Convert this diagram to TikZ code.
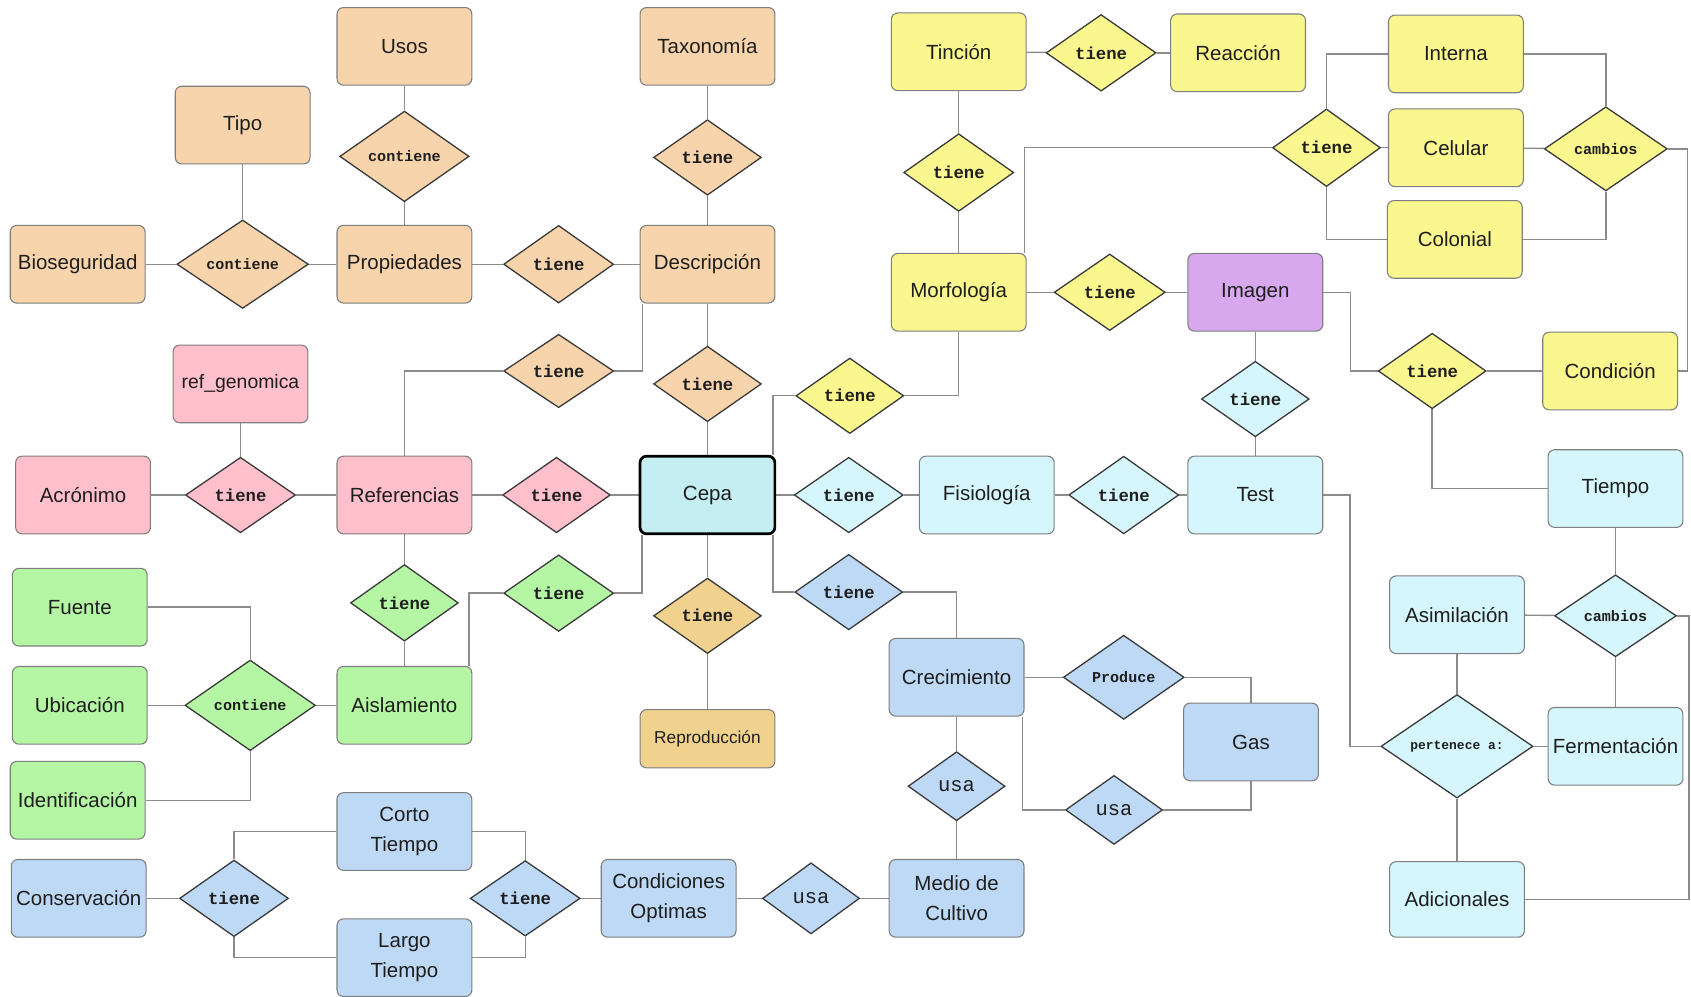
\documentclass[tikz,border=0pt]{standalone}
\usepackage{fontspec}
\newfontfamily\entf{Liberation Sans}
\newfontfamily\relf{Liberation Mono}
\usetikzlibrary{shapes.geometric}
\pgfdeclarelayer{bgfill}
\pgfdeclarelayer{lines}
\pgfsetlayers{bgfill,lines,main}
\definecolor{cPeach}{HTML}{F8D4AC}
\definecolor{cGold}{HTML}{F0D28E}
\definecolor{cYellow}{HTML}{FAF78E}
\definecolor{cPurple}{HTML}{D7A8EE}
\definecolor{cPink}{HTML}{FFBFCB}
\definecolor{cGreen}{HTML}{B5F6A4}
\definecolor{cLight}{HTML}{D4F6FC}
\definecolor{cCepa}{HTML}{C4EEF2}
\definecolor{cBlue}{HTML}{BDD9F5}
\definecolor{entB}{HTML}{7F7F7F}
\definecolor{relB}{HTML}{3A3A3A}
\definecolor{lineC}{HTML}{8C8C8C}
\definecolor{txt}{HTML}{1E1E1E}
\begin{document}
\begin{tikzpicture}[x=1pt,y=-1pt,
  ent/.style={draw=entB, line width=1pt, rounded corners=6pt, minimum width=125pt, minimum height=72pt, inner sep=2pt, align=center, text=txt, font=\entf\fontsize{19}{28}\selectfont},
  rel/.style={diamond, draw=relB, line width=1.2pt, minimum width=100pt, minimum height=70pt, inner sep=0pt, shape aspect=1.4, text=txt, font=\relf\bfseries\fontsize{16}{18}\selectfont},
  small/.style={font=\relf\bfseries\fontsize{14}{16}\selectfont},
  usastyle/.style={minimum width=90pt, minimum height=64pt, font=\relf\fontsize{19}{20}\selectfont},
  conn/.style={draw=lineC, line width=1.3pt},
]
\begin{pgfonlayer}{bgfill}
\fill[white] (0,0) rectangle (1568,924);
\end{pgfonlayer}
\useasboundingbox (0,0) rectangle (1568,924);

% ---------- peach ----------
\node[ent, fill=cPeach] (usos) at (375,43) {Usos};
\node[ent, fill=cPeach] (tax) at (656,43) {Taxonomía};
\node[ent, fill=cPeach] (tipo) at (225,116) {Tipo};
\node[ent, fill=cPeach] (bio) at (72,245) {Bioseguridad};
\node[ent, fill=cPeach] (prop) at (375,245) {Propiedades};
\node[ent, fill=cPeach] (desc) at (656,245) {Descripción};
\node[rel, small, fill=cPeach, minimum width=120pt, minimum height=84pt] (cu) at (375,145) {contiene};
\node[rel, fill=cPeach] (tt) at (656,146) {tiene};
\node[rel, small, fill=cPeach, minimum width=122pt, minimum height=82pt] (cb) at (225,245) {contiene};
\node[rel, fill=cPeach, minimum width=102pt, minimum height=72pt] (tp1) at (518,245) {tiene};
\node[rel, fill=cPeach, minimum width=102pt, minimum height=68pt] (tp2) at (518,344) {tiene};
\node[rel, fill=cPeach] (tp3) at (656,356) {tiene};

% ---------- pink ----------
\node[ent, fill=cPink, font=\entf\fontsize{18}{24}\selectfont] (refg) at (223,356) {ref\_genomica};
\node[ent, fill=cPink] (acr) at (77,459) {Acrónimo};
\node[ent, fill=cPink] (ref) at (375,459) {Referencias};
\node[rel, fill=cPink, minimum width=102pt] (tk1) at (223,459) {tiene};
\node[rel, fill=cPink] (tk2) at (516,459) {tiene};

% ---------- green ----------
\node[ent, fill=cGreen] (fuente) at (74,563) {Fuente};
\node[ent, fill=cGreen] (ubic) at (74,654) {Ubicación};
\node[ent, fill=cGreen] (aisl) at (375,654) {Aislamiento};
\node[ent, fill=cGreen] (ident) at (72,742) {Identificación};
\node[rel, fill=cGreen, minimum height=71pt] (tg1) at (375,559) {tiene};
\node[rel, fill=cGreen, minimum width=102pt, minimum height=71pt] (tg2) at (518,550) {tiene};
\node[rel, small, fill=cGreen, minimum width=121pt, minimum height=84pt] (cg) at (232,654) {contiene};

% ---------- centre ----------
\node[ent, fill=cCepa, draw=black, line width=2.5pt] (cepa) at (656,459) {Cepa};
\node[rel, fill=cGold] (tgold) at (656,571) {tiene};
\node[ent, fill=cGold, minimum height=54pt, font=\entf\fontsize{16}{20}\selectfont] (repro) at (656,685) {Reproducción};

% ---------- yellow ----------
\node[ent, fill=cYellow] (tinc) at (889,48) {Tinción};
\node[ent, fill=cYellow] (reac) at (1148,49) {Reacción};
\node[ent, fill=cYellow] (morf) at (889,271) {Morfología};
\node[ent, fill=cYellow] (interna) at (1350,50) {Interna};
\node[ent, fill=cYellow] (celular) at (1350,137) {Celular};
\node[ent, fill=cYellow] (colonial) at (1349,222) {Colonial};
\node[ent, fill=cYellow] (cond) at (1493,344) {Condición};
\node[rel, fill=cYellow, minimum width=102pt, minimum height=72pt] (tyTM) at (889,160) {tiene};
\node[rel, fill=cYellow, minimum width=102pt, minimum height=71pt] (tyTR) at (1021,49) {tiene};
\node[rel, fill=cYellow, minimum width=103pt, minimum height=71pt] (tyMI) at (1029,271) {tiene};
\node[rel, fill=cYellow] (tyCM) at (788,367) {tiene};
\node[rel, fill=cYellow, minimum height=72pt] (tyMC) at (1230,137) {tiene};
\node[rel, small, fill=cYellow, minimum width=114pt, minimum height=78pt] (cambY) at (1489,138) {cambios};
\node[rel, fill=cYellow] (tyIC) at (1328,344) {tiene};

% ---------- purple ----------
\node[ent, fill=cPurple] (imagen) at (1164,271) {Imagen};

% ---------- light cyan ----------
\node[ent, fill=cLight] (fisio) at (915,459) {Fisiología};
\node[ent, fill=cLight] (test) at (1164,459) {Test};
\node[ent, fill=cLight] (tiempo) at (1498,453) {Tiempo};
\node[ent, fill=cLight] (asim) at (1351,570) {Asimilación};
\node[ent, fill=cLight] (ferm) at (1498,692) {Fermentación};
\node[ent, fill=cLight, minimum height=70pt] (adic) at (1351,834) {Adicionales};
\node[rel, fill=cLight, minimum width=101pt] (tl1) at (787,459) {tiene};
\node[rel, fill=cLight, minimum width=102pt, minimum height=72pt] (tl2) at (1042,459) {tiene};
\node[rel, fill=cLight] (tl3) at (1164,370) {tiene};
\node[rel, small, fill=cLight, minimum width=113pt, minimum height=76pt] (cambL) at (1498,571) {cambios};
\node[rel, fill=cLight, minimum width=141pt, minimum height=96pt, font=\relf\bfseries\fontsize{12}{14}\selectfont] (pert) at (1351,692) {pertenece a:};

% ---------- blue ----------
\node[ent, fill=cBlue] (crec) at (887,628) {Crecimiento};
\node[ent, fill=cBlue] (gas) at (1160,688) {Gas};
\node[ent, fill=cBlue] (medio) at (887,833) {Medio de\\Cultivo};
\node[ent, fill=cBlue] (condop) at (620,833) {Condiciones\\Optimas};
\node[ent, fill=cBlue] (cons) at (73,833) {Conservación};
\node[ent, fill=cBlue] (corto) at (375,771) {Corto\\Tiempo};
\node[ent, fill=cBlue] (largo) at (375,888) {Largo\\Tiempo};
\node[rel, fill=cBlue] (tb1) at (787,549) {tiene};
\node[rel, small, fill=cBlue, minimum width=112pt, minimum height=78pt] (prod) at (1042,628) {Produce};
\node[rel, fill=cBlue, usastyle] (usa1) at (887,729) {usa};
\node[rel, fill=cBlue, usastyle] (usa2) at (1033,751) {usa};
\node[rel, fill=cBlue, usastyle, minimum height=66pt] (usa3) at (752,833) {usa};
\node[rel, fill=cBlue, minimum width=101pt, minimum height=71pt] (tb2) at (217,833) {tiene};
\node[rel, fill=cBlue, minimum width=102pt] (tb3) at (487,833) {tiene};

% ---------- connectors ----------
\begin{pgfonlayer}{lines}
\begin{scope}[conn]
\draw (usos) -- (cu); \draw (cu) -- (prop);
\draw (tipo) -- (cb); \draw (bio) -- (cb); \draw (cb) -- (prop);
\draw (prop) -- (tp1); \draw (tp1) -- (desc);
\draw (tax) -- (tt); \draw (tt) -- (desc);
\draw (desc) -- (tp3); \draw (tp3) -- (cepa);
\draw ([xshift=3pt]desc.south west) |- (tp2.east);
\draw (tp2.west) -| (ref.north);
\draw (refg) -- (tk1); \draw (acr) -- (tk1); \draw (tk1) -- (ref);
\draw (ref) -- (tk2); \draw (tk2) -- (cepa);
\draw (ref) -- (tg1); \draw (tg1) -- (aisl);
\draw ([xshift=-3pt]aisl.north east) |- (tg2.west);
\draw (tg2.east) -| ([xshift=3pt]cepa.south west);
\draw (fuente.east) -| (cg.north);
\draw (ubic) -- (cg); \draw (cg) -- (aisl);
\draw (cg.south) |- (ident.east);
\draw (cepa) -- (tgold); \draw (tgold) -- (repro);
\draw ([xshift=-3pt]cepa.north east) |- (tyCM.west);
\draw (tyCM.east) -| (morf.south);
\draw (cepa) -- (tl1); \draw (tl1) -- (fisio);
\draw ([xshift=-3pt]cepa.south east) |- (tb1.west);
\draw (tb1.east) -| (crec.north);
\draw (tinc) -- (tyTM); \draw (tyTM) -- (morf);
\draw (tinc) -- (tyTR); \draw (tyTR) -- (reac);
\draw (morf) -- (tyMI); \draw (tyMI) -- (imagen);
\draw ([xshift=-2pt]morf.north east) |- (tyMC.west);
\draw (tyMC.north) |- (interna.west);
\draw (tyMC) -- (celular);
\draw (tyMC.south) |- (colonial.west);
\draw (interna.east) -| (cambY.north);
\draw (celular) -- (cambY);
\draw (colonial.east) -| (cambY.south);
\draw (cambY.east) -| ([xshift=9pt]cond.east) -- (cond.east);
\draw (imagen.east) -| ([xshift=-25pt]tyIC.west) -- (tyIC.west);
\draw (tyIC) -- (cond);
\draw (tyIC.south) |- (tiempo.west);
\draw (imagen) -- (tl3); \draw (tl3) -- (test);
\draw (fisio) -- (tl2); \draw (tl2) -- (test);
\draw (test.east) -| ([xshift=-28pt]pert.west) -- (pert.west);
\draw (asim) -- (pert); \draw (pert) -- (ferm); \draw (pert) -- (adic);
\draw (tiempo) -- (cambL); \draw (asim) -- (cambL); \draw (cambL) -- (ferm);
\draw (cambL.east) -| ([xshift=152pt]adic.east) -- (adic.east);
\draw (crec) -- (prod); \draw (prod.east) -| (gas.north);
\draw ([xshift=-2pt]crec.south east) |- (usa2.west);
\draw (usa2.east) -| (gas.south);
\draw (crec) -- (usa1); \draw (usa1) -- (medio);
\draw (medio) -- (usa3); \draw (usa3) -- (condop);
\draw (condop) -- (tb3);
\draw (tb3.north) |- (corto.east);
\draw (tb3.south) |- (largo.east);
\draw (cons) -- (tb2);
\draw (tb2.north) |- (corto.west);
\draw (tb2.south) |- (largo.west);
\end{scope}
\end{pgfonlayer}
\end{tikzpicture}
\end{document}
